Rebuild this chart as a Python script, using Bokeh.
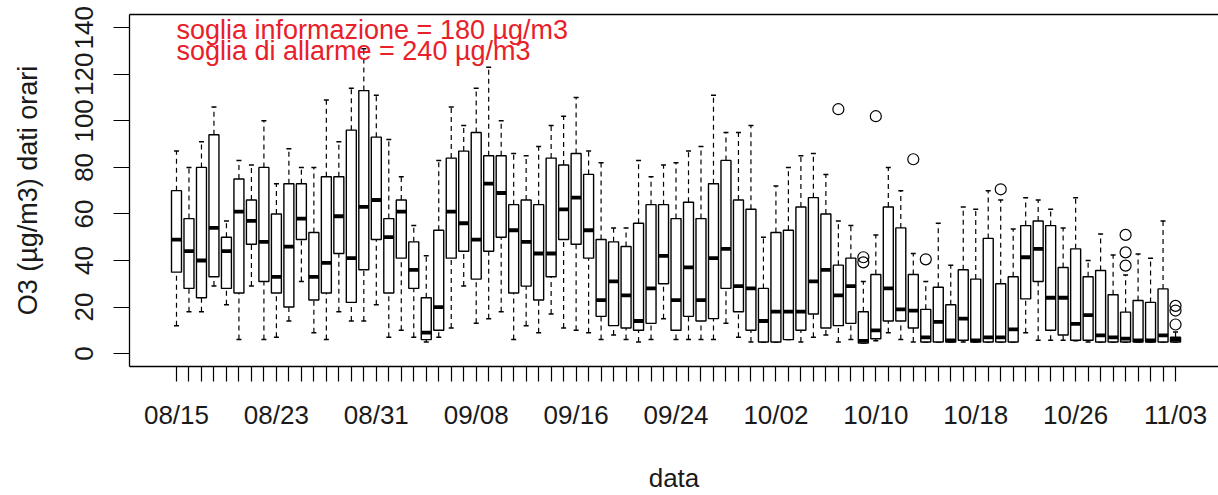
import math
import pandas as pd
from bokeh.plotting import figure
from bokeh.models import ColumnDataSource, Range1d, FixedTicker, Label, LinearAxis
from bokeh.embed import file_html
from bokeh.resources import INLINE

# ---- data -------------------------------------------------------------
days = pd.date_range("2019-08-15", "2019-11-03", freq="D").strftime("%m/%d").tolist()

whisker_low = [12, 18, 18, 29, 21, 6, 29, 6, 7, 14, 31, 9, 6, 18, 14, 14, 21, 7, 10, 7,
               5, 7, 11, 29, 13, 15, 18, 6, 12, 9, 17, 11, 10, 9, 6, 8, 6, 5, 6, 15,
               6, 6, 6, 6, 13, 7, 5, 5, 5, 6, 5, 7, 8, 5, 6, 4.5, 5.5, 9, 6, 5,
               5, 5, 5, 5, 5, 5, 5, 5, 9, 5.7, 5.7, 5.7, 5.5, 5, 5, 5, 5, 5, 5, 5, 5]
q1 = [35, 28, 24, 33, 28, 26, 47, 31, 26, 20, 49, 23, 26, 43, 22, 36, 49, 26, 41, 28,
      6, 10, 41, 44, 32, 44, 50, 26, 29, 23, 33, 49, 47, 41, 16, 12, 11, 10, 13, 30,
      10, 16, 14, 15, 28, 18, 10, 5, 5, 6, 10, 17, 11, 12, 13, 4.5, 6.4, 14, 14, 11,
      5, 5, 5, 5.7, 5, 5, 5, 5, 23.5, 31, 10, 8, 5.7, 5.7, 5, 5, 5, 5, 5, 5, 5]
median = [49, 44, 40, 54, 44, 61, 57, 48, 33, 46, 58, 33, 39, 59, 41, 63, 66, 50, 61, 36,
          9, 20, 61, 56, 49, 73, 69, 53, 48, 43, 43, 62, 67, 53, 23, 31, 25, 14, 28, 42,
          23, 37, 23, 41, 45, 29, 28, 14, 18, 18, 18, 31, 36, 25, 29, 5.5, 10, 28, 19, 18.5,
          7, 13.6, 5.7, 15, 5.7, 7, 7, 10.4, 41.4, 45, 24, 24, 12.8, 16.5, 7.8, 7, 6.4, 5.7, 5.7, 7.8, 6]
q3 = [70, 58, 80, 94, 50, 75, 66, 80, 60, 73, 73, 52, 76, 76, 96, 113, 93, 58, 66, 48,
      24, 53, 84, 87, 95, 85, 85, 64, 66, 64, 84, 81, 86, 77, 49, 48, 46, 56, 64, 64,
      58, 65, 58, 73, 83, 66, 62, 28, 52, 53, 63, 67, 60, 38, 41, 18, 34, 63, 54, 34,
      19, 28.5, 21, 36, 32, 49.5, 30, 33, 55, 57, 55, 37, 45, 33, 35.7, 25.3, 17.8, 22.8, 22, 27.8, 7]
whisker_high = [87, 80, 91, 106, 57, 83, 81, 100, 73, 88, 80, 80, 109, 91, 114, 131, 111, 92, 76, 55,
                42, 83, 106, 98, 114, 123, 100, 86, 85, 89, 98, 102, 110, 87, 82, 54, 54, 83, 76, 81,
                82, 87, 89, 111, 95, 95, 98, 50, 72, 80, 85, 86, 77, 57, 55, 31, 51, 80, 70, 43,
                31, 56, 38, 63, 62, 70, 66, 53.5, 67, 66, 62, 54, 67, 40, 51.4, 42.4, 33.8, 42.8, 41, 57, 9.3]

outlier_day = [54, 56, 56, 57, 60, 61, 67, 77, 77, 77, 81, 81, 81]
outlier_value = [105, 41.4, 39.2, 102, 83.5, 40.5, 70.6, 51, 43.5, 37.8, 20.5, 18.5, 12.5]

y_ticks = [0, 20, 40, 60, 80, 100, 120, 140]
label_every = 8
info_text = "soglia informazione = 180 µg/m3"
alarm_text = "soglia di allarme = 240 µg/m3"
y_title = "O3 (µg/m3) dati orari"
x_title = "data"

# ---- build -------------------------------------------------------------
n = len(days)
pos = list(range(1, n + 1))
box_w = 0.8
staple_w = 0.4

src = ColumnDataSource(dict(
    x=pos, wl=whisker_low, q1=q1, med=median, q3=q3, wh=whisker_high,
    bl=[x - box_w / 2 for x in pos], br=[x + box_w / 2 for x in pos],
    sl=[x - staple_w / 2 for x in pos], sr=[x + staple_w / 2 for x in pos],
))
out_src = ColumnDataSource(dict(x=outlier_day, y=outlier_value))

FONT = "Liberation Sans"
TXT = "#1a1a1a"
FS = "26px"

p = figure(width=1218, height=495, output_backend="svg", toolbar_location=None,
           x_range=Range1d(-2.763, 84.44), y_range=Range1d(-5.55, 145.7),
           min_border_left=129, min_border_right=0, min_border_top=14, min_border_bottom=127)
p.xgrid.visible = False
p.ygrid.visible = False
p.outline_line_color = None
p.background_fill_color = "white"
p.border_fill_color = "white"

# whiskers
p.segment("x", "q3", "x", "wh", source=src, line_color="black", line_width=1.2, line_dash="5 4")
p.segment("x", "wl", "x", "q1", source=src, line_color="black", line_width=1.2, line_dash="5 4")
# staples
p.segment("sl", "wh", "sr", "wh", source=src, line_color="black", line_width=1.5)
p.segment("sl", "wl", "sr", "wl", source=src, line_color="black", line_width=1.5)
# boxes
p.vbar(x="x", width=box_w, bottom="q1", top="q3", source=src,
       fill_color="white", line_color="black", line_width=1.4)
# medians
p.segment("bl", "med", "br", "med", source=src, line_color="black", line_width=3.8)
# outliers
p.scatter("x", "y", source=out_src, marker="circle", size=11,
          fill_color=None, line_color="black", line_width=1.2)

# axes
p.yaxis.ticker = FixedTicker(ticks=y_ticks)
p.yaxis.major_tick_out = 16
p.yaxis.major_tick_in = 0
p.yaxis.minor_tick_line_color = None
p.yaxis.major_label_orientation = "vertical"
p.yaxis.major_label_standoff = 20
p.yaxis.major_label_text_font = FONT
p.yaxis.major_label_text_font_size = FS
p.yaxis.major_label_text_color = TXT
p.yaxis.axis_line_color = "black"
p.yaxis.axis_line_width = 1.3
p.yaxis.major_tick_line_color = "black"
p.yaxis.major_tick_line_width = 1.2

p.xaxis.ticker = FixedTicker(ticks=pos)
p.xaxis.major_label_overrides = {x: (days[x - 1] if (x - 1) % label_every == 0 else "") for x in pos}
p.xaxis.major_tick_out = 15
p.xaxis.major_tick_in = 0
p.xaxis.minor_tick_line_color = None
p.xaxis.major_label_standoff = 18
p.xaxis.major_label_text_font = FONT
p.xaxis.major_label_text_font_size = FS
p.xaxis.major_label_text_color = TXT
p.xaxis.axis_line_color = "black"
p.xaxis.axis_line_width = 1.3
p.xaxis.major_tick_line_color = "black"
p.xaxis.major_tick_line_width = 1.2

# axis titles carried by line-less axes
def title_axis(text, standoff, size):
    return LinearAxis(ticker=FixedTicker(ticks=[]),
                      axis_line_color=None, major_tick_line_color=None,
                      minor_tick_line_color=None, major_label_standoff=0,
                      major_tick_out=0, major_tick_in=0,
                      axis_label=text, axis_label_standoff=standoff,
                      axis_label_text_font=FONT, axis_label_text_font_size=size,
                      axis_label_text_font_style="normal", axis_label_text_color=TXT)

p.add_layout(title_axis(y_title, 30, "27px"), "left")
p.add_layout(title_axis(x_title, 30, FS), "below")

# top border line of the plotting box (right edge lies beyond the picture)
top = LinearAxis(ticker=FixedTicker(ticks=[]), major_tick_line_color=None,
                 minor_tick_line_color=None, major_label_text_font_size="0px",
                 axis_line_color="black", axis_line_width=1.3)
p.add_layout(top, "above")

# threshold notes
RED = "#e8202a"
p.add_layout(Label(x=1, y=139.2, text=info_text, text_color=RED, text_font=FONT,
                   text_font_size="27px", text_align="left", text_baseline="alphabetic"))
p.add_layout(Label(x=1, y=130.2, text=alarm_text, text_color=RED, text_font=FONT,
                   text_font_size="27px", text_align="left", text_baseline="alphabetic"))

open("out.html", "w").write(file_html(p, INLINE))
